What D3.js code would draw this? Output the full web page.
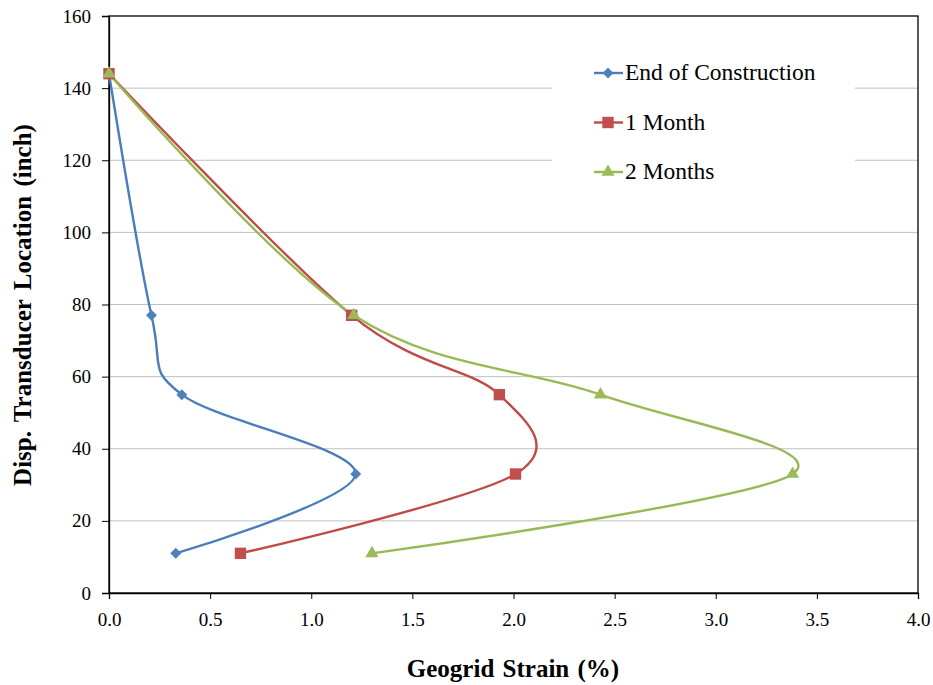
<!DOCTYPE html>
<html><head><meta charset="utf-8">
<script src="https://cdn.jsdelivr.net/npm/d3@7"></script>
<style>body{margin:0;background:#fff}svg{display:block}
svg text{font-family:"Liberation Serif","Times New Roman",Times,serif !important;}</style>
</head><body>
<svg id="c" width="933" height="685"></svg>
<script>
const seriesNames = ["End of Construction", "1 Month", "2 Months"];
const locations = [144, 77, 55, 33, 11];
const strainEOC = [0.00, 0.21, 0.36, 1.22, 0.33];
const strain1M = [0.00, 1.20, 1.93, 2.01, 0.65];
const strain2M = [0.00, 1.21, 2.43, 3.38, 1.30];
const xTicks = [0, 0.5, 1, 1.5, 2, 2.5, 3, 3.5, 4];
const yTicks = [0, 20, 40, 60, 80, 100, 120, 140, 160];

const lineColors = ["#4A7EBB", "#BE4B48", "#98B954"];
const markColors = ["#4F81BD", "#C0504D", "#9BBB59"];
const symbols = [d3.symbolSquare, d3.symbolSquare, d3.symbolTriangle];
const symSizes = [60, 130, 75];
const symRot = [45, 0, 0];

const svg = d3.select("#c");
const L = 109, R = 918, T = 16, B = 593;
const x = d3.scaleLinear().domain([0, 4]).range([L, R]);
const y = d3.scaleLinear().domain([0, 160]).range([B, T]);

// gridlines
svg.append("g").selectAll("line").data(yTicks.filter(d => d > 0 && d < 160)).join("line")
  .attr("x1", L).attr("x2", R).attr("y1", d => y(d)).attr("y2", d => y(d))
  .attr("stroke", "#c0c0c0").attr("stroke-width", 1);

// plot frame
svg.append("rect").attr("x", L).attr("y", T).attr("width", R - L).attr("height", B - T)
  .attr("fill", "none").attr("stroke", "#000").attr("stroke-width", 1.3);

// axes
const xAxis = svg.append("g").attr("transform", `translate(0,${B})`)
  .call(d3.axisBottom(x).tickValues(xTicks).tickFormat(d3.format(".1f")).tickSize(6).tickPadding(14));
const yAxis = svg.append("g").attr("transform", `translate(${L},0)`)
  .call(d3.axisLeft(y).tickValues(yTicks).tickFormat(d3.format("d")).tickSize(7).tickPadding(11));
[xAxis, yAxis].forEach(a => {
  a.attr("font-family", null);
  a.select(".domain").attr("stroke", "#000").attr("stroke-width", 1.3);
  a.selectAll(".tick line").attr("stroke", "#000");
  a.selectAll("text").attr("font-size", 19).attr("fill", "#000");
});

// axis titles
svg.append("text").attr("x", 513).attr("y", 677).attr("text-anchor", "middle")
  .attr("font-size", 25).attr("font-weight", "bold").attr("word-spacing", 2).text("Geogrid Strain (%)");
svg.append("text").attr("transform", "translate(31,305) rotate(-90)").attr("text-anchor", "middle")
  .attr("font-size", 25).attr("font-weight", "bold").attr("word-spacing", 3).text("Disp. Transducer Location (inch)");

// series
const allStrains = [strainEOC, strain1M, strain2M];
const line = d3.line().x(d => x(d[0])).y(d => y(d[1])).curve(d3.curveCardinal.tension(0));
allStrains.forEach((s, i) => {
  const pts = s.map((v, j) => [v, locations[j]]);
  svg.append("path").datum(pts).attr("d", line).attr("fill", "none")
    .attr("stroke", lineColors[i]).attr("stroke-width", 2.4);
});
allStrains.forEach((s, i) => {
  const pts = s.map((v, j) => [v, locations[j]]);
  svg.append("g").selectAll("path").data(pts).join("path")
    .attr("transform", d => `translate(${x(d[0])},${y(d[1])}) rotate(${symRot[i]})`)
    .attr("d", d3.symbol().type(symbols[i]).size(symSizes[i]))
    .attr("fill", markColors[i]);
});

// legend
const lg = svg.append("g");
lg.append("rect").attr("x", 552).attr("y", 46).attr("width", 303).attr("height", 148).attr("fill", "#fff");
seriesNames.forEach((n, i) => {
  const cy = 73 + i * 49.5;
  lg.append("line").attr("x1", 594).attr("x2", 623).attr("y1", cy).attr("y2", cy)
    .attr("stroke", lineColors[i]).attr("stroke-width", 2.4);
  lg.append("path").attr("transform", `translate(608,${cy}) rotate(${symRot[i]})`)
    .attr("d", d3.symbol().type(symbols[i]).size(symSizes[i])).attr("fill", markColors[i]);
  lg.append("text").attr("x", 625).attr("y", cy + 7).attr("font-size", 23.5)
    .attr("fill", "#000").text(n);
});
</script>
</body></html>
